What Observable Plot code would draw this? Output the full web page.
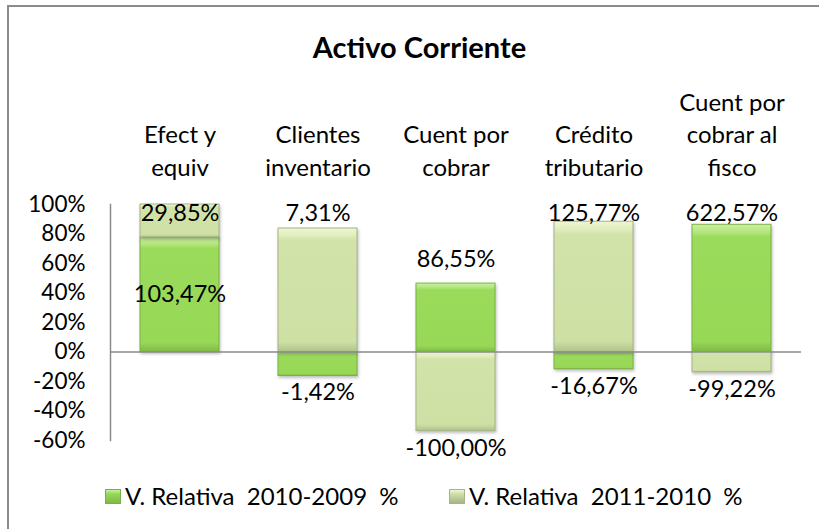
<!DOCTYPE html>
<html>
<head>
<meta charset="utf-8">
<script src="https://cdn.jsdelivr.net/npm/d3@7"></script>
<script src="https://cdn.jsdelivr.net/npm/@observablehq/plot@0.6"></script>
<style>
  html, body { margin: 0; padding: 0; background: #fff; overflow: hidden; }
  #wrap { position: relative; width: 819px; height: 529px; overflow: hidden; font-family: Lato, "Open Sans", sans-serif; color: #000; }
  #frame { position: absolute; left: 7px; top: 5px; width: 812px; height: 524px; border-top: 2px solid #8c8c8c; border-left: 2px solid #8c8c8c; box-sizing: border-box; }
  #title { position: absolute; left: 0; top: 0; width: 100%; height: 70px; text-align: center; font-weight: bold; font-size: 29px; line-height: 30px; padding-top: 32px; padding-left: 20px; box-sizing: border-box; }
  #chart { position: absolute; left: 0; top: 70px; }
  #legend { position: absolute; left: 0; top: 484px; width: 100%; height: 24px; font-size: 24px; line-height: 24px; }
  .item { position: absolute; top: 0; white-space: pre; display: flex; align-items: center; }
  .swatch { width: 16px; height: 15px; margin-right: 4px; display: inline-block; box-sizing: border-box; }
  #chart svg g[aria-label="bar"] rect { filter: drop-shadow(1px 2px 1.5px rgba(0,0,0,0.25)); }
</style>
</head>
<body>
<svg width="0" height="0" style="position:absolute">
  <defs>
    <linearGradient id="gDark" x1="0" y1="0" x2="0" y2="1">
      <stop offset="0" stop-color="#caf0a2"/>
      <stop offset="0.06" stop-color="#b5e67f"/>
      <stop offset="0.1" stop-color="#9adb5b"/>
      <stop offset="0.92" stop-color="#97d857"/>
      <stop offset="1" stop-color="#80ba45"/>
    </linearGradient>
    <linearGradient id="gLight" x1="0" y1="0" x2="0" y2="1">
      <stop offset="0" stop-color="#eef6d4"/>
      <stop offset="0.06" stop-color="#e0edbd"/>
      <stop offset="0.1" stop-color="#d2e3aa"/>
      <stop offset="0.92" stop-color="#cfe0a5"/>
      <stop offset="1" stop-color="#b0c28c"/>
    </linearGradient>
  </defs>
</svg>
<div id="wrap">
  <div id="frame"></div>
  <div id="title">Activo Corriente</div>
  <div id="chart"></div>
  <div id="legend"></div>
</div>
<script>
const categories = ["Efect y equiv", "Clientes inventario", "Cuent por cobrar", "Crédito tributario", "Cuent por cobrar al fisco"];
const categoryLabels = ["Efect y\nequiv", "Clientes\ninventario", "Cuent por\ncobrar", "Crédito\ntributario", "Cuent por\ncobrar al\nfisco"];
const seriesNames = ["V. Relativa  2010-2009  %", "V. Relativa  2011-2010  %"];
const vRel2010_2009 = [103.47, -1.42, 86.55, -16.67, 622.57];
const vRel2011_2010 = [29.85, 7.31, -100.00, 125.77, -99.22];
const yTicks = [-60, -40, -20, 0, 20, 40, 60, 80, 100];

const fills = ["url(#gDark)", "url(#gLight)"];
const strokes = ["#7cb046", "#a6b487"];

// 100% stacked (share of absolute total), positives up and negatives down
const rows = [];
categories.forEach((cat, i) => {
  const a = vRel2010_2009[i], b = vRel2011_2010[i];
  const total = Math.abs(a) + Math.abs(b);
  const sa = a / total * 100, sb = b / total * 100;
  const same = Math.sign(a) === Math.sign(b);
  rows.push({cat, s: 0, value: a, y1: 0, y2: sa, outer: !same});
  if (same) rows.push({cat, s: 1, value: b, y1: sa, y2: sa + sb, outer: true});
  else rows.push({cat, s: 1, value: b, y1: 0, y2: sb, outer: true});
});
rows.forEach(r => {
  if (!r.outer) r.ly = (r.y1 + r.y2) / 2;
  else if (r.value >= 0) r.ly = Math.min(r.y2 + 16, 94);
  else r.ly = r.y2 - 11.5;
});
const fmt = v => v.toFixed(2).replace(".", ",") + "%";

const plot = Plot.plot({
  width: 819,
  height: 405,
  marginLeft: 110,
  marginRight: 18,
  marginTop: 134,
  marginBottom: 35,
  style: {fontFamily: "Lato, 'Open Sans', sans-serif", fontSize: "23px", color: "#000", background: "transparent", overflow: "visible"},
  x: {domain: categories, paddingInner: 0.43, paddingOuter: 0.215, axis: null},
  y: {domain: [-60, 100], axis: null},
  marks: [
    Plot.barY(rows.filter(r => r.s === 0), {x: "cat", y1: "y1", y2: "y2", fill: fills[0], stroke: strokes[0], strokeWidth: 1}),
    Plot.barY(rows.filter(r => r.s === 1), {x: "cat", y1: "y1", y2: "y2", fill: fills[1], stroke: strokes[1], strokeWidth: 1}),
    Plot.ruleY([0], {stroke: "#8a8a8a", strokeWidth: 1.5}),
    Plot.frame({anchor: "left", stroke: "#8a8a8a", strokeWidth: 1.5}),
    Plot.axisY({ticks: yTicks, tickFormat: d => d + "%", tickSize: 0, tickPadding: 25, fill: "#000", fontSize: 22.5, label: null}),
    Plot.axisX({anchor: "top", tickSize: 0, tickPadding: 29, lineHeight: 1.35, fill: "#000", fontSize: 24, label: null,
      tickFormat: d => categoryLabels[categories.indexOf(d)]}),
    Plot.text(rows, {x: "cat", y: "ly", text: d => fmt(d.value), fill: "#000", fontSize: 23.5})
  ]
});
document.getElementById("chart").appendChild(plot);

// legend
const legend = document.getElementById("legend");
const lefts = [105, 449];
seriesNames.forEach((name, i) => {
  const item = document.createElement("div");
  item.className = "item";
  item.style.left = lefts[i] + "px";
  const sw = document.createElement("span");
  sw.className = "swatch";
  sw.style.background = i === 0 ? "linear-gradient(#caf0a2, #97d857 30%, #80ba45)" : "linear-gradient(#eef6d4, #cfe0a5 30%, #a6b487)";
  sw.style.border = "1px solid " + strokes[i];
  const tx = document.createElement("span");
  tx.textContent = name;
  item.appendChild(sw);
  item.appendChild(tx);
  legend.appendChild(item);
});
</script>
</body>
</html>
